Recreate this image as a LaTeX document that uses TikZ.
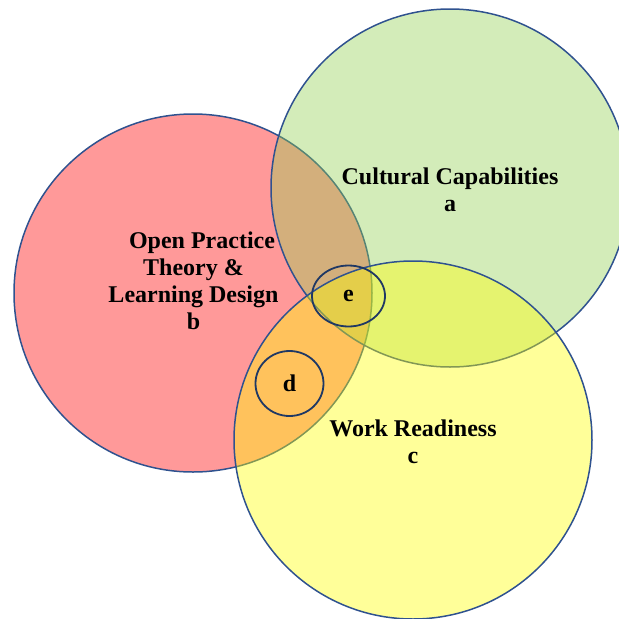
\documentclass[tikz,border=0pt]{standalone}
\usepackage{fontspec}
\setmainfont{Liberation Serif}
\usetikzlibrary{shapes.geometric}
\definecolor{outl}{HTML}{2F528F}
\definecolor{navy}{HTML}{1F3864}
\definecolor{cred}{HTML}{FF0000}
\definecolor{cgreen}{HTML}{92D050}
\definecolor{cyellow}{HTML}{FFFF00}
\tikzset{
  setcircle/.style={circle, draw=outl, line width=1.5pt, fill opacity=0.4, draw opacity=1, inner sep=0pt, outer sep=0pt, minimum size=358pt},
  subset/.style={ellipse, draw=navy, line width=1.8pt, inner sep=0pt, font=\bfseries\fontsize{24}{27}\selectfont},
  lbl/.style={align=center, font=\bfseries\fontsize{24}{27}\selectfont, inner sep=0pt}
}
\begin{document}
\begin{tikzpicture}[x=1pt,y=-1pt]
\useasboundingbox (0,0) rectangle (619,619);
\node[setcircle, fill=cred] (B) at (193,293) {};
\node[setcircle, fill=cgreen] (A) at (450,188) {};
\node[setcircle, fill=cyellow] (C) at (413,440) {};
\node[subset, minimum width=73pt, minimum height=61pt] (E) at (348.5,296) {e};
\node[subset, minimum width=68pt, minimum height=65pt] (D) at (289.5,383.5) {d};
\node[lbl] (LA) at (450,190) {Cultural Capabilities\\a};
\node[lbl] (LB) at (193.5,281) {\hspace*{17pt}Open Practice\\Theory \&\\Learning Design\\b};
\node[lbl] (LC) at (413,442) {Work Readiness\\c};
\end{tikzpicture}
\end{document}
